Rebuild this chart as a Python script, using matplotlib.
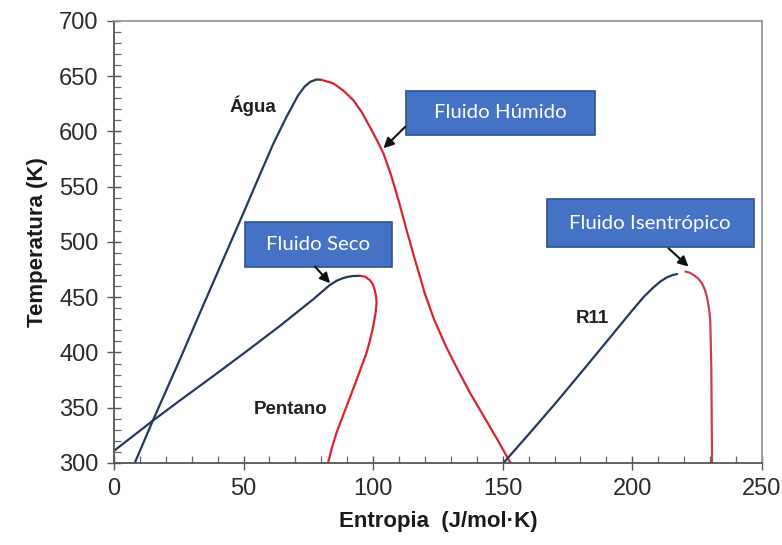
import matplotlib
matplotlib.use("Agg")
import matplotlib.pyplot as plt
from matplotlib.patches import Rectangle
from matplotlib.ticker import MultipleLocator

# ---- data ----
agua_liq_s = [8.0, 15.1, 25.4, 33.1, 42.1, 51.1, 56.3, 61.4, 66.5, 71.0, 73.5, 75.8, 78.1, 80.0]
agua_liq_T = [300, 339.0, 393.5, 435.5, 484.0, 532.5, 561.0, 588.5, 613.0, 632.5, 640.5, 645.0, 647.0, 646.8]
agua_vap_s = [80.0, 84.6, 88.5, 92.3, 95.6, 98.7, 101.5, 104.0, 107.0, 110.0, 113.0, 116.5, 120.0, 123.5,
              128.0, 132.5, 137.5, 142.5, 148.0, 153.0]
agua_vap_T = [646.8, 643.6, 637.0, 628.5, 617.5, 604.3, 592.0, 580.0, 560.0, 536.0, 510.0, 481.0, 453.0, 430.0,
              406.0, 385.0, 363.0, 343.0, 321.0, 300]

pent_liq_s = [0.0, 15.1, 25.4, 38.2, 51.1, 64.0, 76.8, 83.3, 86.0, 88.4, 90.5, 92.3, 94.9]
pent_liq_T = [311, 338.5, 356.5, 378.5, 401.0, 424.0, 448.0, 461.1, 465.0, 467.3, 468.6, 469.2, 469.4]
pent_vap_s = [94.9, 97.0, 98.7, 99.8, 100.6, 101.2, 101.3, 100.9, 100.0, 98.8, 97.4, 93.6, 89.7, 85.8, 84.0, 82.6]
pent_vap_T = [469.4, 468.5, 465.6, 462.0, 456.6, 450.0, 444.5, 435.0, 423.3, 411.0, 399.3, 375.1, 351.0, 326.9, 313.0, 300]

r11_liq_s = [150.3, 160.6, 170.9, 181.2, 191.5, 200.5, 204.5, 208.2, 211.0, 213.4, 215.5, 217.3]
r11_liq_T = [300, 327.5, 355.5, 384.5, 413.8, 439.5, 450.5, 459.0, 464.5, 468.0, 470.0, 471.0]
r11_vap_s = [220.5, 222.2, 223.7, 225.5, 226.9, 228.0, 228.8, 229.6, 230.1, 230.5, 230.8]
r11_vap_T = [473.2, 472.2, 470.1, 466.8, 462.6, 457.0, 450.5, 440.0, 429.4, 387.2, 300]

x_ticks = [0, 50, 100, 150, 200, 250]
y_ticks = [300, 350, 400, 450, 500, 550, 600, 650, 700]

fluid_labels = ["Água", "Pentano", "R11"]
fluid_label_pos = [(53.7, 623), (68.0, 348), (184.7, 431)]

box_texts = ["Fluido Húmido", "Fluido Seco", "Fluido Isentrópico"]
box_rects = [(112.7, 596.8, 73.0, 40.1), (50.6, 477.6, 56.6, 40.8), (167.1, 495.2, 79.7, 43.4)]
arrow_from = [(112.4, 604.3), (77.6, 477.6), (214.0, 494.3)]
arrow_to = [(104.0, 584.8), (83.4, 462.6), (221.7, 477.7)]

BLUE = "#23395d"
RED = "#d9232e"

fig = plt.figure(figsize=(7.82, 5.45), dpi=100)
ax = fig.add_axes([0.1458, 0.1505, 0.8284, 0.811])

lw = 1.6
kw = dict(lw=lw, solid_capstyle="round", solid_joinstyle="round")
ax.plot(agua_liq_s, agua_liq_T, color=BLUE, **kw)
ax.plot(agua_vap_s, agua_vap_T, color=RED, **kw)
ax.plot(pent_liq_s, pent_liq_T, color=BLUE, **kw)
ax.plot(pent_vap_s, pent_vap_T, color=RED, **kw)
ax.plot(r11_liq_s, r11_liq_T, color=BLUE, **kw)
ax.plot(r11_vap_s, r11_vap_T, color="#c8404f", **kw)

ax.set_xlim(0, 250)
ax.set_ylim(300, 700)
ax.set_xticks(x_ticks)
ax.set_yticks(y_ticks)
ax.xaxis.set_minor_locator(MultipleLocator(10))
ax.yaxis.set_minor_locator(MultipleLocator(10))

tick_font = dict(family="Liberation Sans", size=17, color="#2a2a2a")
ax.set_xticklabels([str(v) for v in x_ticks], **tick_font)
ax.set_yticklabels([str(v) for v in y_ticks], **tick_font)
ax.tick_params(axis="both", which="major", direction="inout", length=10, width=1.0, color="#555555", pad=6)
ax.tick_params(axis="both", which="minor", direction="in", length=5, width=0.9, color="#666666")

for side in ["left", "bottom"]:
    ax.spines[side].set_color("#555555")
    ax.spines[side].set_linewidth(1.3)
for side in ["top", "right"]:
    ax.spines[side].set_color("#999999")
    ax.spines[side].set_linewidth(1.3)

ax.set_xlabel("Entropia  (J/mol·K)", family="Liberation Sans", weight="bold", size=16, color="#1a1a1a", labelpad=8)
ax.set_ylabel("Temperatura (K)", family="Liberation Sans", weight="bold", size=16, color="#1a1a1a", labelpad=8)

for lab, (x, y) in zip(fluid_labels, fluid_label_pos):
    ax.text(x, y, lab, ha="center", va="center", family="Liberation Sans", weight="bold", size=13.5, color="#222222")

for txt, (x0, y0, w, h), p0, p1 in zip(box_texts, box_rects, arrow_from, arrow_to):
    ax.add_patch(Rectangle((x0, y0), w, h, facecolor="#4472c4", edgecolor="#2f528f", lw=1.2, zorder=5))
    ax.text(x0 + w / 2, y0 + h / 2, txt, ha="center", va="center", color="white",
            family="Lato", size=14.7, zorder=6)
    ax.annotate("", xy=p1, xytext=p0,
                arrowprops=dict(arrowstyle="-|>", color="#111111", lw=1.5, mutation_scale=15,
                                shrinkA=0, shrinkB=0), zorder=7)

fig.savefig("out.png", dpi=100)
